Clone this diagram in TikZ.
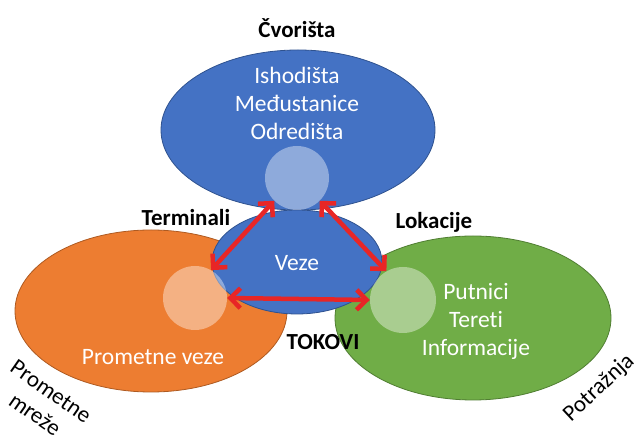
\documentclass[tikz,border=0pt]{standalone}
\usepackage{fontspec}
\setmainfont{Carlito}[Ligatures=NoCommon]
\usetikzlibrary{arrows.meta,shapes.geometric}
\definecolor{cblue}{RGB}{68,114,196}
\definecolor{cblueb}{RGB}{47,82,143}
\definecolor{corange}{RGB}{237,125,49}
\definecolor{corangeb}{RGB}{174,90,33}
\definecolor{cgreen}{RGB}{112,173,71}
\definecolor{cgreenb}{RGB}{80,126,50}
\definecolor{cred}{RGB}{232,38,38}
\tikzset{
  x=1pt,y=-1pt,
  blob/.style={ellipse,line width=0.8pt,inner sep=0pt},
  dot/.style={circle,fill=white,fill opacity=0.4,draw=none,minimum size=64pt,inner sep=0pt},
  wtxt/.style={text=white,font=\fontsize{23.5}{28}\selectfont,align=center},
  btxt/.style={text=black,font=\fontsize{23}{26}\selectfont\bfseries},
  ltxt/.style={text=black,font=\fontsize{23}{28}\selectfont,align=center},
  rarrow/.style={draw=cred,line width=4.5pt,{Straight Barb[length=10pt,width=20pt,line width=4.5pt]}-{Straight Barb[length=10pt,width=20pt,line width=4.5pt]}}
}
\begin{document}
\begin{tikzpicture}
\useasboundingbox (0,0) rectangle (641,435);
\node[blob,fill=cblue,draw=cblueb,minimum width=274pt,minimum height=160pt] (top) at (298,130) {};
\node[blob,fill=corange,draw=corangeb,minimum width=272pt,minimum height=162pt] (left) at (151,311) {};
\node[blob,fill=cgreen,draw=cgreenb,minimum width=276pt,minimum height=164pt] (right) at (473,318) {};
\node[blob,fill=cblue,draw=cblueb,minimum width=170pt,minimum height=104pt] (mid) at (297,262) {};
\node[dot] (tc) at (297,178) {};
\node[dot] (lc) at (195,298) {};
\node[dot,minimum size=66pt] (rc) at (403,300) {};
\node[wtxt] (toptxt) at (297,103) {Ishodišta\\Međustanice\\Odredišta};
\node[wtxt] (veze) at (297,263) {Veze};
\node[wtxt] (lefttxt) at (153,357) {Prometne veze};
\node[wtxt] (righttxt) at (476,321) {Putnici\\Tereti\\Informacije};
\node[btxt] (cvor) at (297,28) {Čvorišta};
\node[btxt] (term) at (186,218) {Terminali};
\node[btxt] (lok) at (434,222) {Lokacije};
\node[btxt] (tok) at (323,342) {TOKOVI};
\node[ltxt,rotate=-35] (pm) at (43,403) {Prometne\\mreže};
\node[ltxt,rotate=43] (pot) at (599,388) {Potražnja};
\draw[rarrow] (tc.225) -- (lc.60);
\draw[rarrow] (tc.-45) -- (rc.120);
\draw[rarrow] (lc.east) -- (rc.west);
\end{tikzpicture}
\end{document}
